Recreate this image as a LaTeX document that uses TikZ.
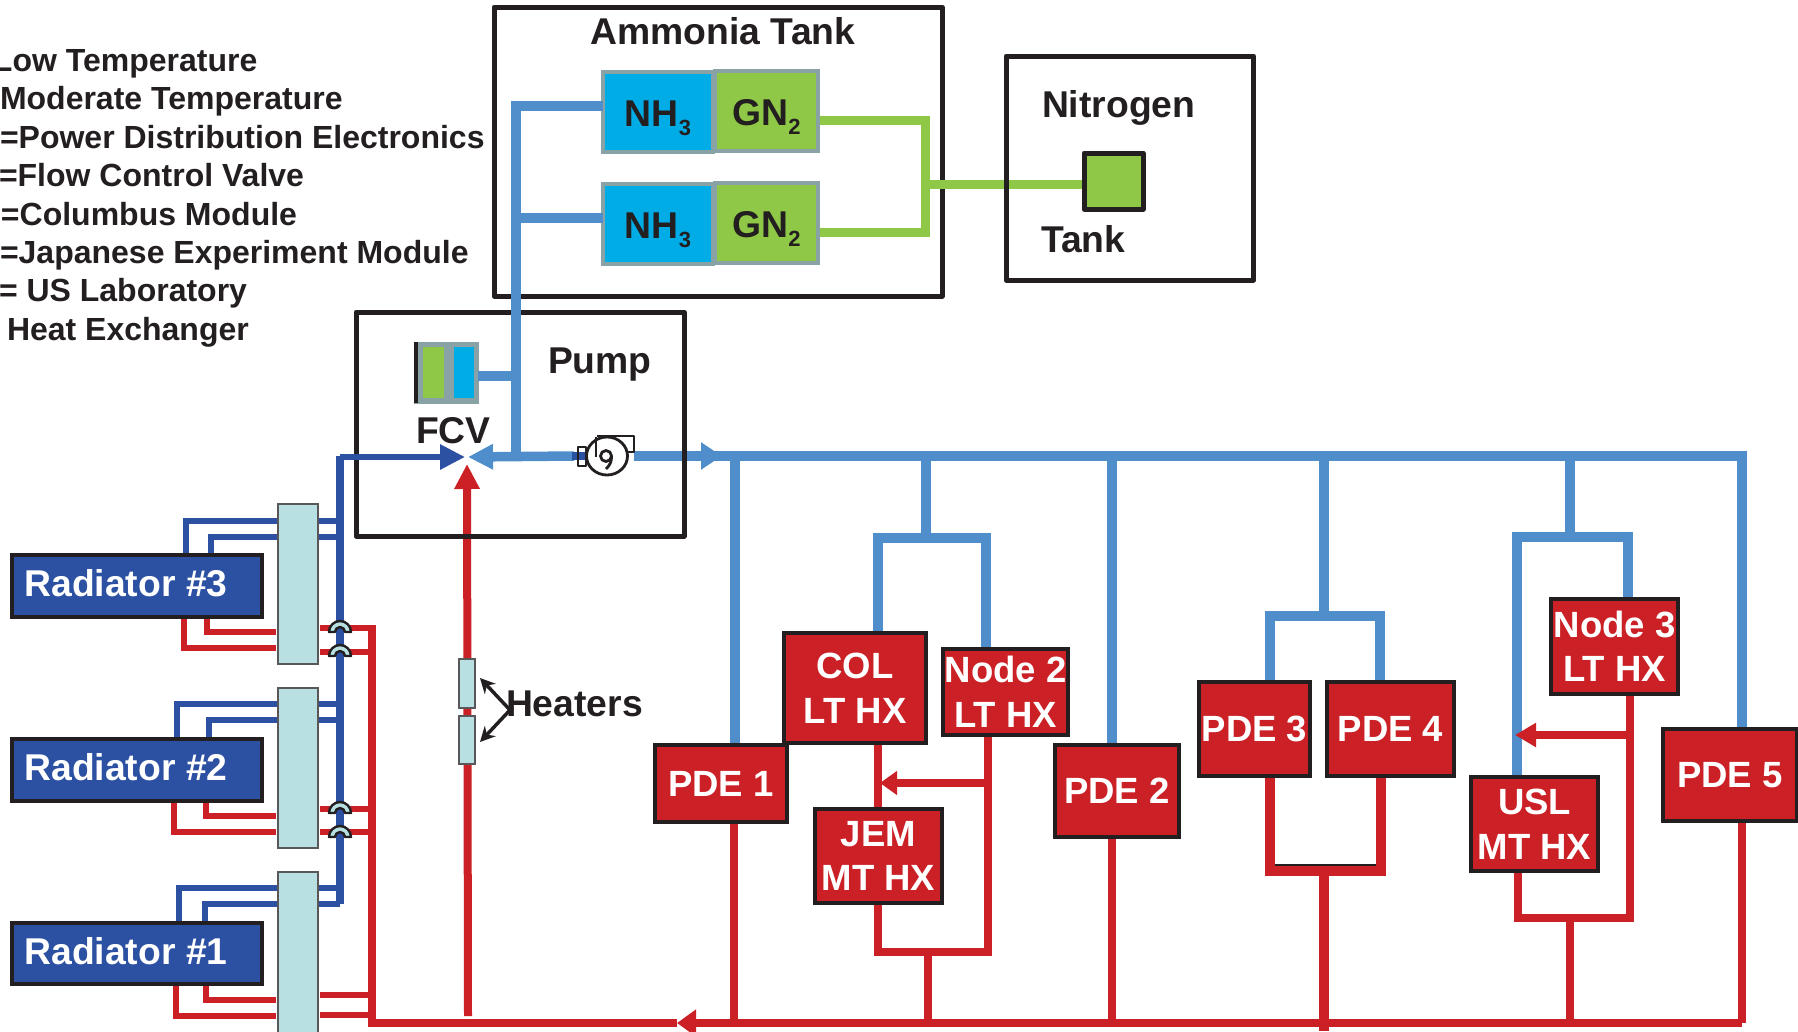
\documentclass[tikz,border=0pt]{standalone}
\usepackage{fontspec}
\setmainfont{Liberation Sans}
\usetikzlibrary{arrows.meta,shapes.geometric}
\pgfdeclarelayer{bg}\pgfdeclarelayer{fg}
\pgfsetlayers{bg,main,fg}
\definecolor{ink}{HTML}{231F20}
\definecolor{hotred}{HTML}{CB2026}
\definecolor{ltblue}{HTML}{4F8DCB}
\definecolor{dkblue}{HTML}{2C50A2}
\definecolor{gasgreen}{HTML}{8FC846}
\definecolor{nhcyan}{HTML}{00ACE6}
\definecolor{tankgrey}{HTML}{88A2A5}
\definecolor{panelc}{HTML}{B8DFE2}
\newcommand\bx[7]{\node[#6,minimum width={#4-#2-2},minimum height={#5-#3-2}] (#1) at ({(#2+#4)/2},{(#3+#5)/2}) {#7};}
\newcommand\subd[1]{\raisebox{-9pt}[0pt][0pt]{\fontsize{22}{22}\selectfont #1}}
\newcommand\raddrop{\rule[-6pt]{0pt}{6pt}}
\tikzset{
  every node/.style={inner sep=0pt,outer sep=0pt,text=ink},
  big/.style={font=\fontsize{36.5}{44.5}\selectfont\bfseries},
  large/.style={font=\fontsize{37.3}{44.5}\selectfont\bfseries},
  lbl/.style={large,anchor=base west},
  legend/.style={font=\fontsize{32}{38}\selectfont\bfseries,anchor=base west},
  frame/.style={draw=ink,line width=5pt,line join=round},
  redbox/.style={big,draw=ink,line width=3.5pt,fill=hotred,text=white,align=center},
  radbox/.style={large,draw=ink,line width=4pt,fill=dkblue,text=white},
  panelbox/.style={draw=ink!75,line width=2.5pt,fill=panelc},
  nhbox/.style={large,draw=tankgrey,line width=4.5pt,fill=nhcyan},
  gnbox/.style={large,draw=tankgrey,line width=4.5pt,fill=gasgreen},
  ntank/.style={draw=ink,line width=5pt,fill=gasgreen,line join=round},
  heater/.style={draw=ink!75,line width=1.5pt,fill=panelc},
  lt/.style={draw=ltblue,line width=9.5pt},
  rd/.style={draw=hotred,line width=8pt},
  rdthin/.style={draw=hotred,line width=6pt},
  rdfat/.style={draw=hotred,line width=10pt},
  db/.style={draw=dkblue,line width=5.5pt},
  dbfat/.style={draw=dkblue,line width=8pt},
  gn/.style={draw=gasgreen,line width=9pt},
  hop/.style={draw=ink,line width=2.4pt,fill=panelc,line join=round},
  pumpline/.style={draw=ink,line width=2.8pt,line join=round},
  pointer/.style={draw=ink,line width=3.5pt,-{Stealth[length=15pt,width=15pt]}},
}
\begin{document}
\begin{tikzpicture}[x=1pt,y=-1pt]
\useasboundingbox (0,0) rectangle (1798,1031);
% legend
\node[legend] (l1) at (-7,71) {Low Temperature};
\node[legend] (l2) at (0,109) {Moderate Temperature};
\node[legend] (l3) at (0,148) {=Power Distribution Electronics};
\node[legend] (l4) at (-1,186) {=Flow Control Valve};
\node[legend] (l5) at (1,225) {=Columbus Module};
\node[legend] (l6) at (0,263) {=Japanese Experiment Module};
\node[legend] (l7) at (-1,301) {= US Laboratory};
\node[legend] (l8) at (7,340) {Heat Exchanger};
% frames
\bx{ammonia}{493}{6}{943}{297}{frame}{}
\bx{nitro}{1005}{55}{1254.5}{281}{frame}{}
\bx{pumpbox}{355}{311}{685}{537}{frame}{}
\node[lbl,anchor=base] (ammT) at (723,44) {Ammonia Tank};
\node[lbl] (nitT) at (1042,117) {Nitrogen};
\node[lbl] (tnkT) at (1041,252) {Tank};
\node[lbl] (pumT) at (548,373) {Pump};
\node[lbl] (fcvT) at (416,443) {FCV};
\node[lbl] (heaT) at (506,716) {Heaters};
% tanks
\bx{nh1}{602}{71}{714}{153}{nhbox}{NH\subd{3}\rule{0pt}{28pt}}
\bx{gn1}{714}{70}{819}{152}{gnbox}{GN\subd{2}\rule{0pt}{30pt}}
\bx{nh2}{602}{183}{714}{265}{nhbox}{NH\subd{3}\rule{0pt}{28pt}}
\bx{gn2}{714}{182}{819}{264}{gnbox}{GN\subd{2}\rule{0pt}{30pt}}
\bx{ntk}{1083}{152}{1144}{210}{ntank}{}
% fcv icon
\bx{fcvbody}{413}{341}{479}{404}{draw=tankgrey,line width=0pt,fill=tankgrey}{}
\fill[ink] (fcvbody.north west) rectangle (fcvbody.south west -| 418,0);
\bx{fcvg}{422}{346}{445}{399}{draw=none,fill=gasgreen}{}
\bx{fcvc}{453}{346}{475}{399}{draw=none,fill=nhcyan}{}
% radiators and panels
\bx{rad3}{11}{554}{263}{618}{radbox}{Radiator \#3\hspace*{22pt}\raddrop}
\bx{rad2}{11}{738}{263}{802}{radbox}{Radiator \#2\hspace*{22pt}\raddrop}
\bx{rad1}{11}{922}{263}{985}{radbox}{Radiator \#1\hspace*{22pt}\raddrop}
\bx{pan3}{277}{503}{319}{665}{panelbox}{}
\bx{pan2}{277}{687}{319}{849}{panelbox}{}
\bx{pan1}{277}{871}{319}{1045}{panelbox}{}
% heaters
\bx{heat1}{458}{658}{476}{709}{heater}{}
\bx{heat2}{458}{715}{476}{765}{heater}{}
% thermal boxes
\bx{pde1}{654}{744}{788}{823}{redbox}{PDE 1}
\bx{col}{783}{632}{927}{744}{redbox}{COL\\LT HX}
\bx{node2}{942}{648}{1069}{736}{redbox}{Node 2\\LT HX}
\bx{jem}{814}{808}{943}{904}{redbox}{JEM\\MT HX}
\bx{pde2}{1054}{744}{1180}{838}{redbox}{PDE 2}
\bx{pde3}{1198}{681}{1311}{777}{redbox}{PDE 3}
\bx{pde4}{1326}{681}{1455}{777}{redbox}{PDE 4}
\bx{node3}{1550}{598}{1679}{695}{redbox}{Node 3\\LT HX}
\bx{usl}{1470}{776}{1599}{872}{redbox}{USL\\MT HX}
\bx{pde5}{1662}{728}{1798}{822}{redbox}{PDE 5}
% pump
\node[ellipse,draw=ink,line width=2.8pt,fill=white,minimum width=41pt,minimum height=38pt] (pump) at (607,456) {};
% junctions
\coordinate (bus0) at (468,457);
\coordinate (busA) at (516,456);
\coordinate (busArrow) at (722,456);
\coordinate (busR) at (1742,456);
\coordinate (bP1) at (735,456);
\coordinate (bC) at (926,456);
\coordinate (bP2) at (1112,456);
\coordinate (bD) at (1324,456);
\coordinate (bU) at (1570,456);
\coordinate (rC) at (372,1023);
\coordinate (rR) at (1742,1023);
\coordinate (rTip) at (677,1023);
\coordinate (rH) at (468,1016);
\coordinate (rP1) at (734,1023);
\coordinate (rJ) at (928,1023);
\coordinate (rP2) at (1112,1023);
\coordinate (rD) at (1324,1023);
\coordinate (rU) at (1570,1023);
\coordinate (dbTop) at (340,456);
\coordinate (dbBot) at (340,904);
\coordinate (hj) at (510,710);
\coordinate (hT1) at (480,678);
\coordinate (hT2) at (480,742);
\begin{pgfonlayer}{bg}
% radiator cold lines
\draw[db] (186,554) -- (186,521) -- (340,521);
\draw[db] (211,554) -- (211,537) -- (340,537);
\draw[db] (177,738) -- (177,704) -- (340,704);
\draw[db] (209,738) -- (209,720) -- (340,720);
\draw[db] (179,922) -- (179,888) -- (340,888);
\draw[db] (205,922) -- (205,904) -- (dbBot);
% radiator hot lines
\draw[rdthin] (184,618) -- (184,648) -- (276,648);
\draw[rdthin] (207,618) -- (207,632) -- (276,632);
\draw[rdthin] (174,802) -- (174,832) -- (276,832);
\draw[rdthin] (206,802) -- (206,816) -- (276,816);
\draw[rdthin] (176,985) -- (176,1016) -- (276,1016);
\draw[rdthin] (206,985) -- (206,1000) -- (276,1000);
\draw[rdthin] (320,628) -- (376,628);
\draw[rdthin] (320,652) -- (372,652);
\draw[rdthin] (320,809) -- (372,809);
\draw[rdthin] (320,832) -- (372,832);
\draw[rdthin] (320,995) -- (372,995);
\draw[rdthin] (320,1015) -- (372,1015);
\draw[rd] (372,625) -- (372,1027);
\draw[dbfat] (dbTop) -- (dbBot);
% supply lines
\draw[lt] (bP1) -- (bP1 |- pde1.north);
\draw[lt] (bC) -- (926,538);
\draw[lt] (878,632) -- (878,538) -- (986,538) -- (986,648);
\draw[lt] (bP2) -- (bP2 |- pde2.north);
\draw[lt] (bD) -- (1324,616);
\draw[lt] (1270,681) -- (1270,616) -- (1380,616) -- (1380,681);
\draw[lt] (bU) -- (1570,537);
\draw[lt] (1517,776) -- (1517,537) -- (1628,537) -- (1628,598);
\draw[lt] (rR |- busR) -- (rR |- pde5.north);
% main supply
\draw[lt,-{Triangle[length=21pt,width=26pt]}] (pump.east -| 634,0) -- (busArrow);
\draw[lt] (712,456) -- (1747,456);
\draw[lt,-{Triangle[length=25pt,width=24pt]}] (574,456) -- (bus0);
\draw[draw=dkblue,line width=8pt] (572,456) -- (pump.west);
% return main
\draw[rd] (rC) -- (rTip);
\draw[rd,-{Triangle[length=19pt,width=26pt]}] (rR) -- (rTip);
\draw[rd] (rP1 |- pde1.south) -- (rP1);
\draw[rd] (rP2 |- pde2.south) -- (rP2);
\draw[rd] (rR |- pde5.south) -- (rR);
% col / jem / node2
\draw[rd] (878,744) -- (878,808);
\draw[rd] (878,904) -- (878,952) -- (988,952) -- (988,736);
\draw[rd] (rJ |- 0,952) -- (rJ);
\draw[rd,-{Triangle[length=17pt,width=23pt]}] (988,783) -- (880,783);
% pde3/4
\draw[rdfat] (1270,777) -- (1270,871) -- (1381,871) -- (1381,777);
\draw[rdfat] (rD |- 0,871) -- (1324,1031);
\draw[draw=ink,line width=1.5pt] (1275,865) -- (1376,865);
% usl/node3
\draw[rd] (1518,872) -- (1518,918) -- (1630,918) -- (1630,695);
\draw[rd] (rU |- 0,918) -- (rU);
\draw[rd,-{Triangle[length=21pt,width=23pt]}] (1630,735) -- (1515,735);
% green nitrogen
\draw[gn] (gn1.east |- 0,120) -- (925.5,120) -- (925.5,232) -- (gn2.east |- 0,232);
\draw[gn] (1000,184) -- (ntk.west |- 0,184);
% heater feed
\draw[rd,-{Triangle[length=25pt,width=24pt]}] (rH) -- (467,464);
\end{pgfonlayer}
\begin{pgfonlayer}{fg}
% lines over frames
\draw[lt] (516,101) -- (516,457);
\draw[lt] (516,106) -- (nh1.west |- 0,106);
\draw[lt] (516,218) -- (nh2.west |- 0,218);
\draw[lt] (fcvbody.east |- 0,376) -- (516,376);
\draw[gn] (925.5,184) -- (1004,184);
\draw[draw=dkblue,line width=6pt,-{Triangle[length=25pt,width=24pt]}] (340,457) -- (465,457);
\draw[dbfat] (dbTop) -- (340,470);
% pump details
\draw[pumpline] (578,447) rectangle (586,466);
\draw[pumpline] (597,436) -- (634,436) -- (634,452) -- (628,452);
\draw[pumpline] (596,437) -- (596,457);
\draw[pumpline] (606,456) circle[radius=5.5];
\draw[pumpline] (611.5,456) .. controls (612,462) and (609,466) .. (606,469);
% bridges
\foreach \yy in {632,656,813,837}{
  \draw[hop] (329,\yy) arc[start angle=180,end angle=360,radius=11] -- (345,\yy) arc[start angle=360,end angle=180,radius=5] -- cycle;
}
% heater pointers
\draw[pointer] (hj) -- (hT1);
\draw[pointer] (hj) -- (hT2);
\end{pgfonlayer}
\end{tikzpicture}
\end{document}
